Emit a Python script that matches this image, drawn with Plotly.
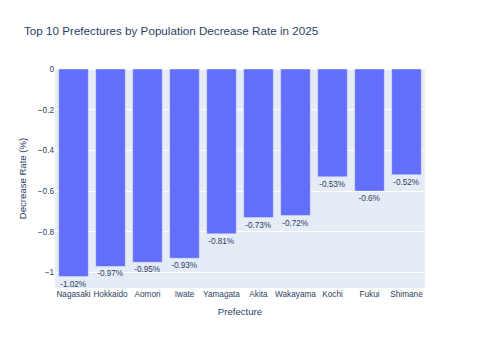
import plotly.graph_objects as go

prefectures = ["Nagasaki", "Hokkaido", "Aomori", "Iwate", "Yamagata", "Akita",
               "Wakayama", "Kochi", "Fukui", "Shimane"]
decrease_rate = [-1.02, -0.97, -0.95, -0.93, -0.81, -0.73, -0.72, -0.53, -0.6, -0.52]
labels = [f"{v}%" for v in decrease_rate]

S = 480 / 700

fig = go.Figure(go.Bar(
    x=prefectures, y=decrease_rate,
    text=labels, textposition="outside",
    textfont=dict(size=12 * S),
    marker_color="#636efa",
))
fig.update_layout(
    template="plotly",
    width=480, height=343,
    margin=dict(l=80 * S, r=80 * S, t=100 * S, b=80 * S),
    font=dict(size=12 * S, family="Arial"),
    title=dict(text="Top 10 Prefectures by Population Decrease Rate in 2025",
               font=dict(size=17 * S)),
    xaxis=dict(title=dict(text="Prefecture", font=dict(size=14 * S), standoff=10),
               tickangle=0),
    yaxis=dict(title=dict(text="Decrease Rate (%)", font=dict(size=14 * S), standoff=9),
               range=[-1.076, 0]),
)
fig.write_html("out.html")
